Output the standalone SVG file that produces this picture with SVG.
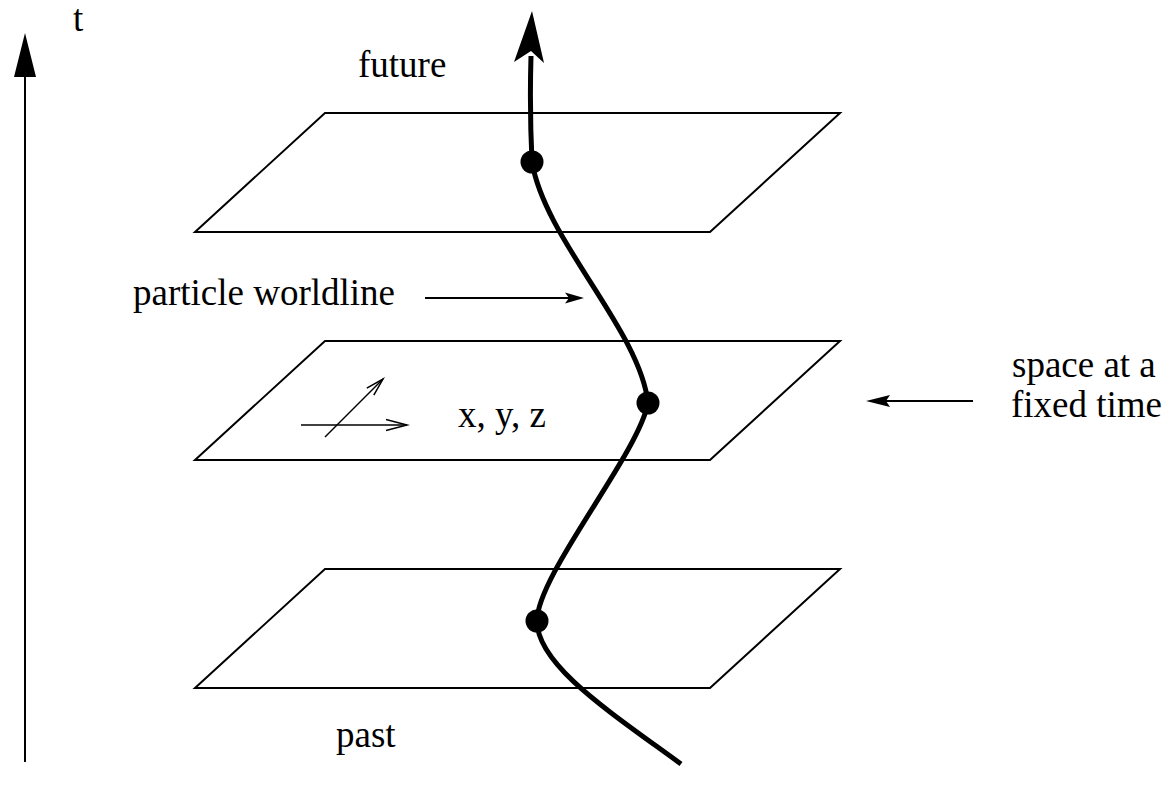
<svg xmlns="http://www.w3.org/2000/svg" width="1172" height="786" viewBox="0 0 1172 786">
<style>
text{font-family:"Liberation Serif","Times New Roman",serif;font-size:37px;fill:#000}
.plane{fill:none;stroke:#000;stroke-width:2}
.thin{fill:none;stroke:#000;stroke-width:2}
.axis3{fill:none;stroke:#000;stroke-width:1.5}
.head{fill:#000;stroke:none}
.wl{fill:none;stroke:#000;stroke-width:5;stroke-linecap:butt}
</style>
<rect width="1172" height="786" fill="#fff"/>
<g id="time-axis">
<line class="thin" x1="25" y1="762" x2="25" y2="75"/>
<polygon class="head" points="25,33 36,77 14,77"/>
<text x="73" y="31">t</text>
</g>
<g id="plane-future">
<polygon class="plane" points="325,113 840,113 710,232 195,232"/>
<text x="358" y="77">future</text>
</g>
<g id="plane-now">
<polygon class="plane" points="325,341 840,341 710,460 195,460"/>
<text x="458" y="427">x, y, z</text>
</g>
<g id="plane-past">
<polygon class="plane" points="325,569 840,569 710,688 195,688"/>
<text x="336" y="747">past</text>
</g>
<g id="worldline">
<path class="wl" d="M681,764 C610,712 537,665 537,621 C537,575 638,455 648,403 C640,330 545,240 532,162 C530,120 530,90 531,56"/>
<polygon class="head" points="532,11 544,63 531,51 514,62"/>
<circle cx="532" cy="162" r="11.5"/>
<circle cx="648" cy="403" r="11.5"/>
<circle cx="537" cy="621" r="11.5"/>
</g>
<g id="label-worldline">
<text x="133" y="305">particle worldline</text>
</g>
<g id="label-space">
<text x="1012" y="377">space at a</text>
<text x="1011" y="417">fixed time</text>
</g>
<g id="connectors">
<line class="thin" x1="425" y1="298" x2="570" y2="298"/>
<polygon class="head" points="584,298 565,292.5 569,298 565,303.5"/>
<line class="thin" x1="973" y1="401" x2="884" y2="401"/>
<polygon class="head" points="866,401 890,395 886,401 890,407"/>
<g id="xyz-axes">
<line class="axis3" x1="301" y1="425" x2="407" y2="425"/>
<polyline class="axis3" points="386,419.5 407,425 386,430.5"/>
<line class="axis3" x1="325" y1="437" x2="383" y2="379"/>
<polyline class="axis3" points="373.8,395.2 383,379 366.8,388.2"/>
</g>
</g>
</svg>
